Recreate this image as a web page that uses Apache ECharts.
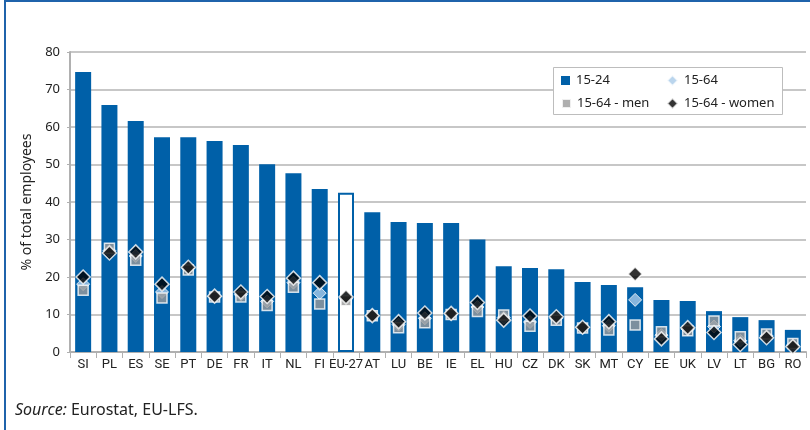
<!DOCTYPE html>
<html>
<head>
<meta charset="utf-8">
<script src="https://cdn.jsdelivr.net/npm/echarts@6/dist/echarts.min.js"></script>
<style>
  html, body { margin: 0; padding: 0; background: #fff; }
  #chart { width: 810px; height: 430px; }
</style>
</head>
<body>
<div id="chart"></div>
<script>
// countries, sorted by share of 15-24 temporary employees
var countries = ['SI', 'PL', 'ES', 'SE', 'PT', 'DE', 'FR', 'IT', 'NL', 'FI', 'EU-27', 'AT', 'LU', 'BE', 'IE', 'EL', 'HU', 'CZ', 'DK', 'SK', 'MT', 'CY', 'EE', 'UK', 'LV', 'LT', 'BG', 'RO'];
var young = [74.7, 65.9, 61.6, 57.3, 57.3, 56.3, 55.2, 50.1, 47.7, 43.5, 42.5, 37.3, 34.7, 34.4, 34.4, 30.0, 22.9, 22.4, 22.1, 18.7, 17.9, 17.3, 13.9, 13.6, 10.9, 9.3, 8.5, 5.9];
var total = [18.1, 27.0, 25.6, 16.0, 22.3, 14.8, 15.3, 13.5, 18.5, 15.7, 14.2, 9.7, 7.3, 9.0, 10.2, 12.0, 9.2, 8.0, 9.0, 6.5, 7.0, 13.9, 4.5, 6.1, 6.8, 3.0, 4.3, 1.8];
var men = [16.5, 27.7, 24.5, 14.4, 21.9, 14.7, 14.7, 12.4, 17.3, 12.8, 13.7, 9.7, 6.5, 7.8, 10.0, 10.8, 9.9, 6.9, 8.5, 6.4, 5.9, 7.2, 5.4, 5.7, 8.3, 4.1, 4.8, 2.3];
var women = [20.0, 26.4, 26.7, 18.1, 22.6, 14.9, 16.0, 14.8, 19.7, 18.5, 14.7, 9.7, 8.1, 10.4, 10.3, 13.2, 8.5, 9.6, 9.4, 6.6, 8.1, 20.8, 3.5, 6.5, 5.2, 2.0, 3.8, 1.4];

var BLUE = '#0060a8';

var chart = echarts.init(document.getElementById('chart'));

var youngData = young.map(function (v, i) {
  if (countries[i] === 'EU-27') {
    return { value: v, itemStyle: { color: '#fff', borderColor: BLUE, borderWidth: 2 } };
  }
  return v;
});

// one legend per entry so the 2x2 box can be placed exactly
function legendItem(name, icon, left, top, size) {
  return {
    data: [{ name: name, icon: icon }],
    left: left, top: top,
    padding: 0,
    itemWidth: size, itemHeight: size,
    itemGap: 0,
    z: 200,
    textStyle: { fontSize: 13, color: '#222', fontFamily: 'Noto Sans', padding: [0, 0, 0, 1] }
  };
}

chart.setOption({
  animation: false,
  textStyle: { fontFamily: 'Noto Sans' },
  grid: { left: 70, right: 4, top: 52, bottom: 78 },
  legend: [
    legendItem('15-24', 'rect', 561, 74, 9),
    legendItem('15-64', 'diamond', 666, 74, 11),
    legendItem('15-64 - men', 'rect', 561, 97, 9),
    legendItem('15-64 - women', 'diamond', 666, 97, 11)
  ],
  xAxis: {
    type: 'category',
    data: countries,
    axisLine: { lineStyle: { color: '#b0b0b0', width: 2 } },
    axisTick: { show: true, length: 6, lineStyle: { color: '#b0b0b0' } },
    axisLabel: { color: '#222', fontSize: 13, fontFamily: 'Roboto', margin: 6, interval: 0 }
  },
  yAxis: {
    type: 'value',
    min: 0, max: 80, interval: 10,
    name: '% of total employees',
    nameLocation: 'middle',
    nameGap: 32,
    nameTextStyle: { fontSize: 14, color: '#222', fontFamily: 'Noto Sans' },
    axisLine: { show: true, lineStyle: { color: '#b0b0b0', width: 2 } },
    axisTick: { show: true, length: 3, lineStyle: { color: '#b0b0b0' } },
    axisLabel: { color: '#222', fontSize: 13, margin: 10 },
    splitLine: { lineStyle: { color: '#b5b5b5', width: 1.5 } }
  },
  series: [
    {
      name: '15-24', type: 'bar', data: youngData,
      barWidth: 16,
      itemStyle: { color: BLUE }
    },
    {
      name: '15-64', type: 'scatter', data: total,
      symbol: 'diamond', symbolSize: 13,
      itemStyle: { color: '#a9cbe9', borderColor: '#fff', borderWidth: 1 }
    },
    {
      name: '15-64 - men', type: 'scatter', data: men,
      symbol: 'rect', symbolSize: 10,
      itemStyle: { color: '#9b9b9b', borderColor: '#fff', borderWidth: 1.5 }
    },
    {
      name: '15-64 - women', type: 'scatter', data: women,
      symbol: 'diamond', symbolSize: 14,
      itemStyle: { color: '#000', borderColor: '#fff', borderWidth: 1.5 }
    }
  ],
  graphic: [
    { type: 'rect', shape: { x: 4, y: 0, width: 806, height: 2 }, style: { fill: '#1f63ab' } },
    { type: 'rect', shape: { x: 4, y: 0, width: 2, height: 430 }, style: { fill: '#1f63ab' } },
    // legend frame
    { type: 'rect', z: 100, shape: { x: 553.5, y: 67.5, width: 229, height: 47 }, style: { fill: '#fff', stroke: '#bdbdbd', lineWidth: 1 } },
    {
      type: 'text', left: 15, top: 402,
      style: {
        text: '{i|Source:} Eurostat, EU-LFS.',
        font: '16px "Noto Sans"',
        fill: '#222',
        rich: { i: { fontStyle: 'italic', fontSize: 16, fontFamily: 'Noto Sans', fill: '#222' } }
      }
    }
  ]
});
</script>
</body>
</html>
